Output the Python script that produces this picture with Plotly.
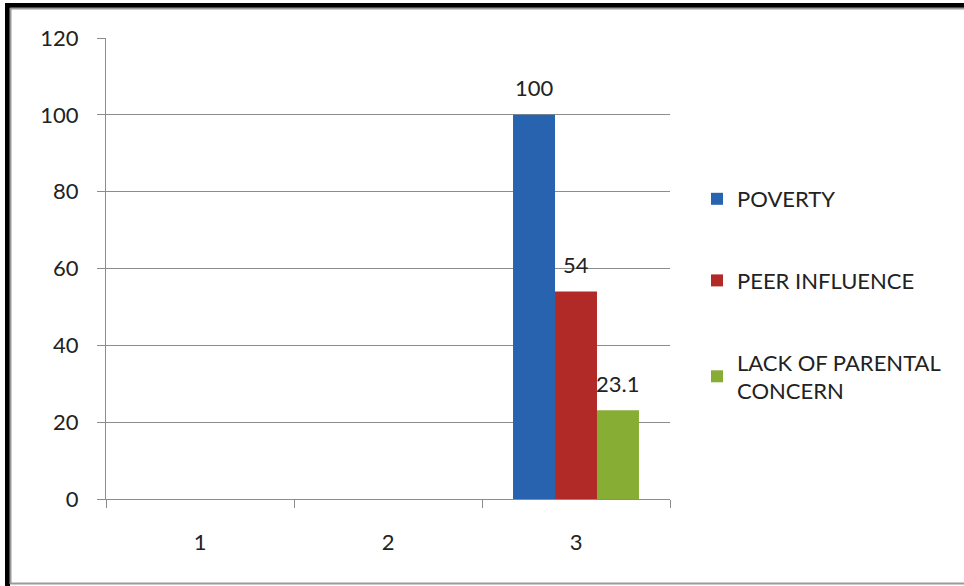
import plotly.graph_objects as go

categories = ["1", "2", "3"]
poverty = [None, None, 100]
peer_influence = [None, None, 54]
lack_parental = [None, None, 23.1]

series_names = ["POVERTY", "PEER INFLUENCE", "LACK OF PARENTAL<br>CONCERN"]
series_values = [poverty, peer_influence, lack_parental]
series_colors = ["#2763AE", "#B22A27", "#88AD35"]
y_ticks = [0, 20, 40, 60, 80, 100, 120]

W, H = 964, 586
L, R, T, B = 106, 294, 38, 87
PW, PH = W - L - R, H - T - B
BARGAP = 0.33


def px_x(x):
    return (x - L) / PW


def px_y(y):
    return (H - B - y) / PH


FONT = "Lato, Carlito, 'Liberation Sans', sans-serif"
TXT = "#222222"

fig = go.Figure()
for i, (name, vals, col) in enumerate(zip(series_names, series_values, series_colors)):
    fig.add_trace(go.Bar(
        x=categories, y=vals, name=name, marker_color=col,
        marker_line_width=0, legendgroup=f"g{i}",
    ))

# value labels floating above each bar
bar_px = PW / len(categories) * (1 - BARGAP) / len(series_values)
annotations = []
for i, vals in enumerate(series_values):
    for ci, v in enumerate(vals):
        if v is None:
            continue
        annotations.append(dict(
            x=ci, y=v, xref="x", yref="y", text="%g" % v, showarrow=False,
            xshift=(i - (len(series_values) - 1) / 2) * bar_px, yshift=27,
            yanchor="middle", font=dict(size=22, family=FONT, color=TXT),
        ))

shapes = [
    # outer frame
    dict(type="rect", xref="paper", yref="paper", x0=px_x(5), x1=px_x(10),
         y0=px_y(586), y1=px_y(3), fillcolor="black", line_width=0, layer="above"),
    dict(type="rect", xref="paper", yref="paper", x0=px_x(5), x1=px_x(964),
         y0=px_y(8), y1=px_y(3), fillcolor="black", line_width=0, layer="above"),
    dict(type="line", xref="paper", yref="paper", x0=px_x(10.5), x1=px_x(10.5),
         y0=px_y(584), y1=px_y(8), line=dict(color="#9a9a9a", width=2)),
    dict(type="line", xref="paper", yref="paper", x0=px_x(10), x1=px_x(964),
         y0=px_y(8.5), y1=px_y(8.5), line=dict(color="#9a9a9a", width=2)),
    dict(type="line", xref="paper", yref="paper", x0=px_x(10), x1=px_x(964),
         y0=px_y(583.5), y1=px_y(583.5), line=dict(color="#9a9a9a", width=2)),
]

fig.update_layout(
    width=W, height=H,
    margin=dict(l=L, r=R, t=T, b=B, autoexpand=False),
    paper_bgcolor="white", plot_bgcolor="white",
    barmode="group", bargap=BARGAP, bargroupgap=0,
    font=dict(family=FONT, size=22, color=TXT),
    showlegend=True,
    legend=dict(x=px_x(697), y=px_y(178), xanchor="left", yanchor="top",
                traceorder="grouped", tracegroupgap=50,
                font=dict(size=22, family=FONT, color=TXT),
                itemwidth=30, bgcolor="rgba(0,0,0,0)"),
    shapes=shapes,
    annotations=annotations,
)
fig.update_xaxes(
    type="category", showgrid=False, showline=True, linecolor="#8c8c8c", linewidth=1,
    ticks="outside", tickson="boundaries", ticklen=8, tickcolor="#8c8c8c",
    ticklabelstandoff=24, tickfont=dict(size=22, family=FONT, color=TXT),
    range=[-0.5, 2.5],
)
fig.update_yaxes(
    range=[0, 120], tickvals=y_ticks, showgrid=True, gridcolor="#8c8c8c", gridwidth=1,
    showline=True, linecolor="#8c8c8c", linewidth=1, zeroline=False,
    ticks="outside", ticklen=8, tickcolor="#8c8c8c", ticklabelstandoff=14,
    tickfont=dict(size=22, family=FONT, color=TXT),
)

fig.write_html("out.html")
